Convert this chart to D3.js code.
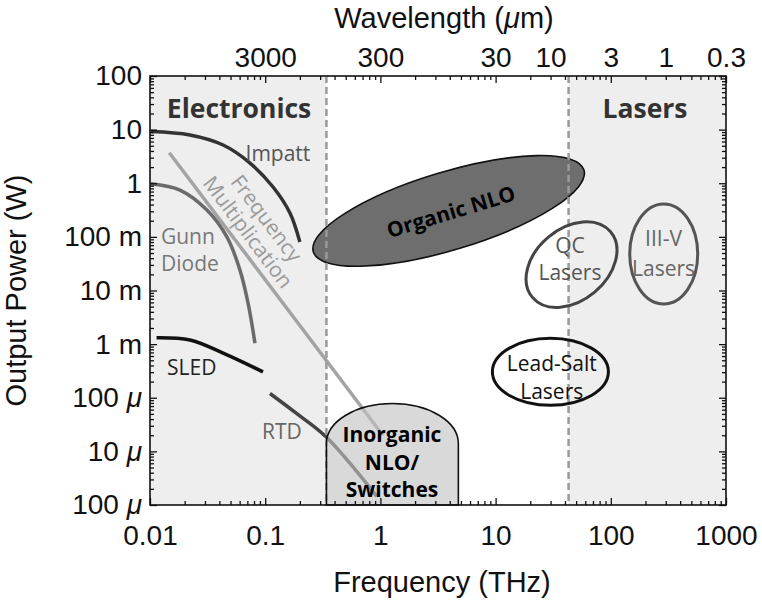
<!DOCTYPE html>
<html><head><meta charset="utf-8">
<script src="https://cdn.jsdelivr.net/npm/d3@7/dist/d3.min.js"></script>
<style>body{margin:0;background:#fff}</style>
</head><body><svg id="c" width="762" height="606"></svg>
<script>
// ---------- data ----------
const freqTicks = [0.01, 0.1, 1, 10, 100, 1000];               // THz
const freqTickLabels = ["0.01", "0.1", "1", "10", "100", "1000"];
const powerTicks = [100, 10, 1, 0.1, 0.01, 0.001, 1e-4, 1e-5, 1e-6]; // W
const powerTickLabels = ["100", "10", "1", "100 m", "10 m", "1 m", "100 μ", "10 μ", "100 μ"];
const wavelengthTicks = [3000, 300, 30, 10, 3, 1, 0.3];        // μm
const wavelengthTickLabels = ["3000", "300", "30", "10", "3", "1", "0.3"];
const electronicsMax = 0.34;   // THz
const lasersMin = 43;          // THz

// source curves: [frequency THz, power W]
const impatt = [[0.0102, 9.2], [0.0222, 7.93], [0.0431, 5.16], [0.0738, 2.38], [0.117, 0.85], [0.164, 0.278], [0.200, 0.080]];
const gunn = [[0.0102, 0.98], [0.0182, 0.746], [0.0312, 0.316], [0.0466, 0.099], [0.0604, 0.024], [0.0710, 0.00582], [0.0815, 0.00104]];
const freqMult = [[0.0147, 3.7], [1.05, 2.0e-5]];
const sled = [[0.0114, 1.31e-3], [0.0222, 1.19e-3], [0.0431, 6.8e-4], [0.0957, 3.04e-4]];
const rtd = [[0.110, 1.2e-4], [0.187, 5.1e-5], [0.337, 1.87e-5], [0.93, 1.45e-6]];
// regions
const inorganic = {fMin: 0.34, fMax: 4.75, pTop: 7.8e-5, pBottom: 1e-6};
const organicTips = [[0.2616, 0.0527], [58.5, 1.763]];
const qcCenter = [45.6, 0.0304];
const iiivCenter = [288, 0.0478];
const leadSaltCenter = [29.9, 3.04e-4];

(function () {
// ---------- layout ----------
const svg = d3.select("#c");
const L = 150, R = 726, T = 76, B = 505;
const x = d3.scaleLog().domain([0.01, 1000]).range([L, R]);
const y = d3.scaleLog().domain([1e-6, 100]).range([B, T]);
const tickFont = "'Liberation Sans', Arial, Helvetica, sans-serif";
const annFont = "'Open Sans', 'Noto Sans', sans-serif";

function minors(lo, hi) {
  const out = [];
  for (let e = Math.round(Math.log10(lo)); e < Math.round(Math.log10(hi)); e++)
    for (let k = 2; k <= 9; k++) out.push(k * Math.pow(10, e));
  return out;
}
const fMinor = minors(0.01, 1000), pMinor = minors(1e-6, 100);

// shading
svg.append("rect").attr("x", x(0.01)).attr("y", T).attr("width", x(electronicsMax) - x(0.01)).attr("height", B - T).attr("fill", "#eeeeee");
svg.append("rect").attr("x", x(lasersMin)).attr("y", T).attr("width", x(1000) - x(lasersMin)).attr("height", B - T).attr("fill", "#eeeeee");

// curves
const line = d3.line().x(d => x(d[0])).y(d => y(d[1])).curve(d3.curveCatmullRom.alpha(0.5));
const curves = [
  [freqMult, "#a3a3a3"], [gunn, "#6b6b6b"], [impatt, "#333"], [sled, "#111"], [rtd, "#444"]
];
curves.forEach(([d, c]) => svg.append("path").attr("d", line(d)).attr("fill", "none").attr("stroke", c).attr("stroke-width", 3.5).attr("stroke-linecap", "butt"));

// Organic NLO ellipse
{
  const p1 = [x(organicTips[0][0]), y(organicTips[0][1])], p2 = [x(organicTips[1][0]), y(organicTips[1][1])];
  const cx = (p1[0] + p2[0]) / 2, cy = (p1[1] + p2[1]) / 2;
  const ang = Math.atan2(p2[1] - p1[1], p2[0] - p1[0]) * 180 / Math.PI;
  const rx = Math.hypot(p2[0] - p1[0], p2[1] - p1[1]) / 2;
  const g = svg.append("g").attr("transform", `translate(${cx},${cy}) rotate(${ang})`);
  g.append("ellipse").attr("rx", rx).attr("ry", 39).attr("fill", "#6e6e6e").attr("stroke", "#111").attr("stroke-width", 1.6);
  g.append("text").attr("x", 2).attr("y", 1).attr("text-anchor", "middle").attr("dominant-baseline", "central")
    .attr("font-family", annFont).attr("font-weight", 700).attr("font-size", 21).attr("fill", "#000").text("Organic NLO");
}

// dashed boundaries
[electronicsMax, lasersMin].forEach(f => svg.append("line").attr("x1", x(f)).attr("x2", x(f)).attr("y1", T).attr("y2", B)
  .attr("stroke", "#9a9a9a").attr("stroke-width", 2.5).attr("stroke-dasharray", "7,4"));

// Inorganic dome
{
  const l = x(inorganic.fMin), r = x(inorganic.fMax), t = y(inorganic.pTop), b = y(inorganic.pBottom);
  const rx = (r - l) / 2, ry = 40;
  svg.append("path").attr("d", `M${l},${b}V${t + ry}A${rx},${ry} 0 0 1 ${r},${t + ry}V${b}Z`)
    .attr("fill", "#c2c2c2").attr("fill-opacity", 0.62).attr("stroke", "#111").attr("stroke-width", 1.6);
}

// laser ellipses
function ell(c, rx, ry, rot, stroke) {
  svg.append("ellipse").attr("transform", `translate(${x(c[0])},${y(c[1])}) rotate(${rot})`)
    .attr("rx", rx).attr("ry", ry).attr("fill", "none").attr("stroke", stroke).attr("stroke-width", 3);
}
ell(qcCenter, 51, 36, -40, "#444");
ell(iiivCenter, 34, 50, 0, "#555");
ell(leadSaltCenter, 58, 33.5, 0, "#111");

// annotations
function label(lines, at, opts) {
  const o = Object.assign({anchor: "middle", size: 21, weight: 400, color: "#555", gap: 27, rotate: 0}, opts);
  const g = svg.append("g").attr("transform", `translate(${x(at[0])},${y(at[1])}) rotate(${o.rotate})`);
  const n = lines.length;
  lines.forEach((s, i) => g.append("text").attr("y", (i - (n - 1) / 2) * o.gap)
    .attr("text-anchor", o.anchor).attr("dominant-baseline", "central")
    .attr("font-family", annFont).attr("font-size", o.size).attr("font-weight", o.weight).attr("fill", o.color).text(s));
}
label(["Electronics"], [0.0593, 25.3], {size: 26.5, weight: 700, color: "#333"});
label(["Lasers"], [198, 25.3], {size: 26.5, weight: 700, color: "#333"});
label(["Impatt"], [0.129, 3.66], {color: "#555"});
label(["Gunn", "Diode"], [0.01245, 0.0573], {anchor: "start", color: "#777"});
label(["SLED"], [0.01406, 3.72e-4], {anchor: "start", color: "#222"});
label(["RTD"], [0.0937, 2.38e-5], {anchor: "start", color: "#666"});
label(["Frequency", "Multiplication"], [0.0861, 0.1675], {color: "#9a9a9a", rotate: 53, gap: 23});
label(["Inorganic", "NLO/", "Switches"], [1.26, 6.37e-6], {weight: 700, color: "#000", gap: 27.5});
label(["QC", "Lasers"], [44.2, 0.0394], {color: "#555", gap: 27});
label(["III-V", "Lasers"], [287, 0.0492], {color: "#666", gap: 30});
label(["Lead-Salt", "Lasers"], [30.7, 2.45e-4], {color: "#111", gap: 28});

// axes
function styleAxis(g) { g.select(".domain").remove(); g.selectAll("line").attr("stroke", "#111").attr("stroke-width", 1.3); }
function tickText(g) { g.selectAll("text").attr("font-family", tickFont).attr("font-size", 28).attr("fill", "#111"); }

const axB = svg.append("g").attr("transform", `translate(0,${B})`)
  .call(d3.axisBottom(x).tickValues(freqTicks).tickSize(-7).tickPadding(20).tickFormat((d, i) => freqTickLabels[i]));
styleAxis(axB); tickText(axB);
svg.append("g").attr("transform", `translate(0,${B})`).call(d3.axisBottom(x).tickValues(fMinor).tickSize(-4).tickFormat("")).call(styleAxis);

const axT = svg.append("g").attr("transform", `translate(0,${T})`)
  .call(d3.axisTop(x).tickValues(freqTicks).tickSize(-7).tickFormat(""));
styleAxis(axT);
svg.append("g").attr("transform", `translate(0,${T})`).call(d3.axisTop(x).tickValues(fMinor).tickSize(-4).tickFormat("")).call(styleAxis);
const axW = svg.append("g").attr("transform", `translate(0,${T})`)
  .call(d3.axisTop(x).tickValues(wavelengthTicks.map(l => 300 / l)).tickSize(0).tickPadding(9).tickFormat((d, i) => wavelengthTickLabels[i]));
axW.select(".domain").remove(); tickText(axW);

const axL = svg.append("g").attr("transform", `translate(${L},0)`)
  .call(d3.axisLeft(y).tickValues(powerTicks).tickSize(-7).tickPadding(8).tickFormat((d, i) => powerTickLabels[i]));
styleAxis(axL); tickText(axL);
axL.selectAll("text").each(function () {
  const t = d3.select(this), s = t.text(), parts = s.split(" ");
  if (parts.length === 2) {
    t.text(null);
    t.append("tspan").text(parts[0] + " ");
    t.append("tspan").attr("font-style", parts[1] === "μ" ? "italic" : "normal").text(parts[1]);
  }
});
svg.append("g").attr("transform", `translate(${L},0)`).call(d3.axisLeft(y).tickValues(pMinor).tickSize(-4).tickFormat("")).call(styleAxis);

const axR = svg.append("g").attr("transform", `translate(${R},0)`)
  .call(d3.axisRight(y).tickValues(powerTicks).tickSize(-7).tickFormat(""));
styleAxis(axR);
svg.append("g").attr("transform", `translate(${R},0)`).call(d3.axisRight(y).tickValues(pMinor).tickSize(-4).tickFormat("")).call(styleAxis);

// frame
svg.append("rect").attr("x", L).attr("y", T).attr("width", R - L).attr("height", B - T).attr("fill", "none").attr("stroke", "#111").attr("stroke-width", 1.6);

// titles
const wt = svg.append("text").attr("x", (L + R) / 2 + 6).attr("y", 28).attr("text-anchor", "middle")
  .attr("font-family", tickFont).attr("font-size", 29).attr("fill", "#111");
wt.append("tspan").text("Wavelength (");
wt.append("tspan").attr("font-style", "italic").text("μ");
wt.append("tspan").text("m)");
svg.append("text").attr("x", (L + R) / 2 + 4).attr("y", 592).attr("text-anchor", "middle")
  .attr("font-family", tickFont).attr("font-size", 29).attr("fill", "#111").text("Frequency (THz)");
svg.append("text").attr("transform", `translate(26,${(T + B) / 2}) rotate(-90)`).attr("text-anchor", "middle")
  .attr("font-family", tickFont).attr("font-size", 29).attr("fill", "#111").text("Output Power (W)");
})();
</script></body></html>
